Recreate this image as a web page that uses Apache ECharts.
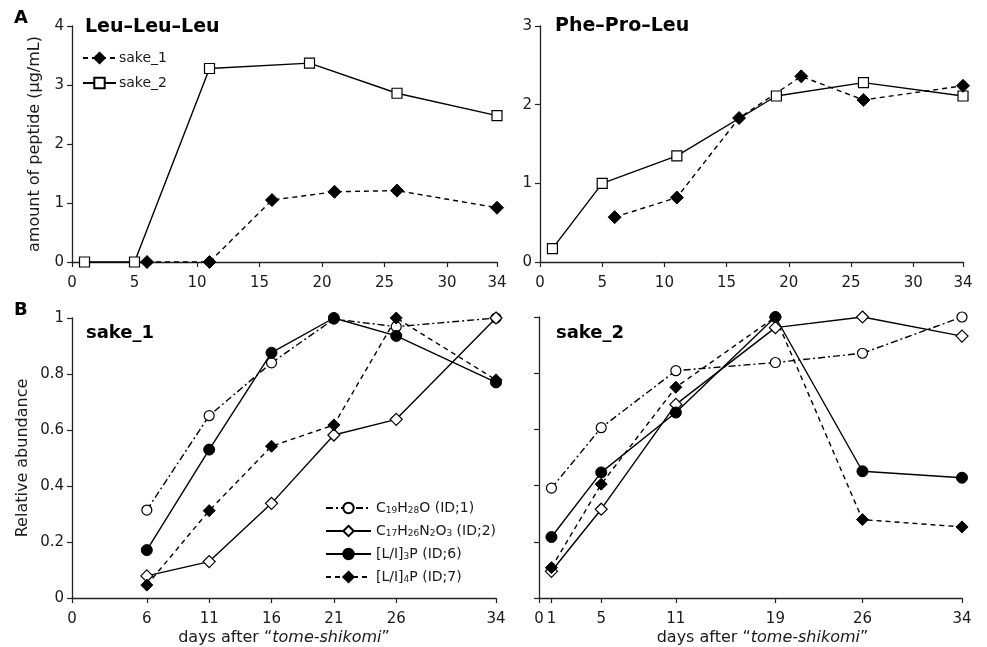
<!DOCTYPE html>
<html>
<head>
<meta charset="utf-8">
<script src="https://cdn.jsdelivr.net/npm/echarts@6/dist/echarts.min.js"></script>
<style>
html,body{margin:0;padding:0;background:#fff;}
#chart{width:987px;height:647px;}
</style>
</head>
<body>
<div id="chart"></div>
<script>
// ---- Data ----
// Panel A: Leu–Leu–Leu
const lllDays1 = [6, 11, 16, 21, 26, 34];
const lllSake1 = [0, 0, 1.05, 1.19, 1.21, 0.92];
const lllDays2 = [1, 5, 11, 19, 26, 34];
const lllSake2 = [0, 0, 3.28, 3.37, 2.86, 2.48];
// Panel A: Phe–Pro–Leu
const fplDays1 = [6, 11, 16, 21, 26, 34];
const fplSake1 = [0.57, 0.82, 1.83, 2.36, 2.06, 2.24];
const fplDays2 = [1, 5, 11, 19, 26, 34];
const fplSake2 = [0.17, 1.0, 1.35, 2.11, 2.28, 2.11];
// Panel B: sake_1
const s1Days = [6, 11, 16, 21, 26, 34];
const s1Id1 = [0.314, 0.651, 0.84, 0.996, 0.969, 1.0];
const s1Id2 = [0.079, 0.13, 0.338, 0.582, 0.638, 1.0];
const s1Id6 = [0.171, 0.53, 0.876, 1.0, 0.936, 0.77];
const s1Id7 = [0.046, 0.312, 0.542, 0.618, 1.0, 0.779];
// Panel B: sake_2
const s2Days = [1, 5, 11, 19, 26, 34];
const s2Id1 = [0.391, 0.606, 0.809, 0.838, 0.871, 1.0];
const s2Id2 = [0.095, 0.316, 0.689, 0.962, 1.0, 0.932];
const s2Id6 = [0.217, 0.447, 0.66, 1.0, 0.451, 0.428];
const s2Id7 = [0.108, 0.405, 0.75, 1.0, 0.279, 0.253];
// Tick labels
const topXTicks = [0, 5, 10, 15, 20, 25, 30, 34];
const s1XTicks = [0, 6, 11, 16, 21, 26, 34];
const s2XTicks = [0, 1, 5, 11, 19, 26, 34];
// Legend names
const compoundNames = ['C19H28O (ID;1)', 'C17H26N2O3 (ID;2)', '[L/I]3P (ID;6)', '[L/I]4P (ID;7)'];
const compoundRich = {
  'C19H28O (ID;1)': 'C{s|19}H{s|28}O (ID;1)',
  'C17H26N2O3 (ID;2)': 'C{s|17}H{s|26}N{s|2}O{s|3} (ID;2)',
  '[L/I]3P (ID;6)': '[L/I]{s|3}P (ID;6)',
  '[L/I]4P (ID;7)': '[L/I]{s|4}P (ID;7)'
};

const FONT = 'DejaVu Sans';
const TXT = '#1a1a1a';
const pair = (xs, ys) => xs.map((x, i) => [x, ys[i]]);

const chart = echarts.init(document.getElementById('chart'), null, {renderer: 'canvas'});

function xAxis(gridIndex, ticks, withName, labelMargin) {
  const ax = {
    type: 'value', gridIndex, min: 0, max: 34,
    axisLine: {show: true, lineStyle: {color: '#222', width: 1.3}},
    axisTick: {show: true, length: 5, lineStyle: {color: '#222', width: 1.2}, customValues: ticks},
    axisLabel: {color: TXT, fontFamily: FONT, fontSize: 15, margin: labelMargin, customValues: ticks},
    splitLine: {show: false}
  };
  if (withName) {
    ax.name = 'days after \u201C{i|tome-shikomi}\u201D';
    ax.nameLocation = 'middle';
    ax.nameGap = 32;
    ax.nameTextStyle = {color: TXT, fontFamily: FONT, fontSize: 16,
      rich: {i: {fontStyle: 'italic', fontFamily: FONT, fontSize: 16, color: TXT}}};
  }
  return ax;
}
function yAxis(gridIndex, max, interval, showLabels, name, nameGap) {
  const ax = {
    type: 'value', gridIndex, min: 0, max, interval,
    axisLine: {show: true, lineStyle: {color: '#222', width: 1.3}},
    axisTick: {show: true, length: 5, lineStyle: {color: '#222', width: 1.2}},
    axisLabel: {show: showLabels, color: TXT, fontFamily: FONT, fontSize: 15, margin: 8,
      formatter: v => String(+v.toFixed(2))},
    splitLine: {show: false}
  };
  if (name) {
    ax.name = name;
    ax.nameLocation = 'middle';
    ax.nameGap = nameGap;
    ax.nameTextStyle = {color: TXT, fontFamily: FONT, fontSize: 16};
  }
  return ax;
}

const openStyle = {color: '#fff', borderColor: '#000', borderWidth: 1.2};
const fillStyle = {color: '#000', borderColor: '#000', borderWidth: 1};
const DASH = [5, 4];
const DASHDOT = [7, 3, 2, 3];

function ser(name, xi, data, symbol, size, itemStyle, lineType) {
  return {
    name, type: 'line', xAxisIndex: xi, yAxisIndex: xi, data,
    symbol, symbolSize: size, showAllSymbol: true, clip: false,
    itemStyle, lineStyle: {color: '#000', width: 1.4, type: lineType},
    emphasis: {disabled: true}, animation: false, z: 3
  };
}

const option = {
  backgroundColor: '#fff',
  animation: false,
  grid: [
    {left: 72, top: 26, width: 425, height: 236},
    {left: 540, top: 26, width: 423, height: 236},
    {left: 72, top: 318, width: 424, height: 280},
    {left: 539, top: 317, width: 423, height: 281}
  ],
  xAxis: [
    xAxis(0, topXTicks, false, 14),
    xAxis(1, topXTicks, false, 14),
    xAxis(2, s1XTicks, true, 14),
    xAxis(3, s2XTicks, true, 14)
  ],
  yAxis: [
    yAxis(0, 4, 1, true, 'amount of peptide (\u03BCg/mL)', 29),
    yAxis(1, 3, 1, true),
    yAxis(2, 1, 0.2, true, 'Relative abundance', 41),
    yAxis(3, 1, 0.2, false)
  ],
  legend: [
    {
      orient: 'vertical', left: 82, top: 51, padding: 0,
      itemWidth: 33, itemHeight: 13, itemGap: 11,
      data: ['sake_1', 'sake_2'],
      textStyle: {color: TXT, fontFamily: FONT, fontSize: 14, padding: [0, 0, 0, -2]},
      selectedMode: false
    },
    {
      orient: 'vertical', left: 325, top: 501, padding: 0,
      itemWidth: 45, itemHeight: 13, itemGap: 9,
      data: compoundNames,
      formatter: n => compoundRich[n],
      textStyle: {color: TXT, fontFamily: FONT, fontSize: 14,
        rich: {s: {fontFamily: FONT, fontSize: 9, color: TXT, verticalAlign: 'bottom'}}},
      selectedMode: false
    }
  ],
  graphic: [
    {type: 'text', left: 14, top: 9, style: {text: 'A', fontFamily: FONT, fontSize: 18, fontWeight: 'bold', fill: '#000'}},
    {type: 'text', left: 14, top: 301, style: {text: 'B', fontFamily: FONT, fontSize: 18, fontWeight: 'bold', fill: '#000'}},
    {type: 'text', left: 85, top: 18, style: {text: 'Leu\u2013Leu\u2013Leu', fontFamily: FONT, fontSize: 19, fontWeight: 'bold', fill: '#000'}},
    {type: 'text', left: 555, top: 17, style: {text: 'Phe\u2013Pro\u2013Leu', fontFamily: FONT, fontSize: 19, fontWeight: 'bold', fill: '#000'}},
    {type: 'text', left: 86, top: 324, style: {text: 'sake_1', fontFamily: FONT, fontSize: 18, fontWeight: 'bold', fill: '#000'}},
    {type: 'text', left: 556, top: 324, style: {text: 'sake_2', fontFamily: FONT, fontSize: 18, fontWeight: 'bold', fill: '#000'}}
  ],
  series: [
    ser('sake_2', 0, pair(lllDays2, lllSake2), 'rect', 10, openStyle, 'solid'),
    ser('sake_1', 0, pair(lllDays1, lllSake1), 'diamond', 13, fillStyle, DASH),
    ser('sake_2', 1, pair(fplDays2, fplSake2), 'rect', 10, openStyle, 'solid'),
    ser('sake_1', 1, pair(fplDays1, fplSake1), 'diamond', 13, fillStyle, DASH),

    ser(compoundNames[0], 2, pair(s1Days, s1Id1), 'circle', 10, openStyle, DASHDOT),
    ser(compoundNames[1], 2, pair(s1Days, s1Id2), 'diamond', 12, openStyle, 'solid'),
    ser(compoundNames[2], 2, pair(s1Days, s1Id6), 'circle', 11, fillStyle, 'solid'),
    ser(compoundNames[3], 2, pair(s1Days, s1Id7), 'diamond', 12, fillStyle, DASH),

    ser(compoundNames[0], 3, pair(s2Days, s2Id1), 'circle', 10, openStyle, DASHDOT),
    ser(compoundNames[1], 3, pair(s2Days, s2Id2), 'diamond', 12, openStyle, 'solid'),
    ser(compoundNames[2], 3, pair(s2Days, s2Id6), 'circle', 11, fillStyle, 'solid'),
    ser(compoundNames[3], 3, pair(s2Days, s2Id7), 'diamond', 12, fillStyle, DASH)
  ]
};
// shift the right panel axis name slightly right to match reference
option.xAxis[3].nameTextStyle.padding = [0, 0, 0, 24];
chart.setOption(option);
</script>
</body>
</html>
